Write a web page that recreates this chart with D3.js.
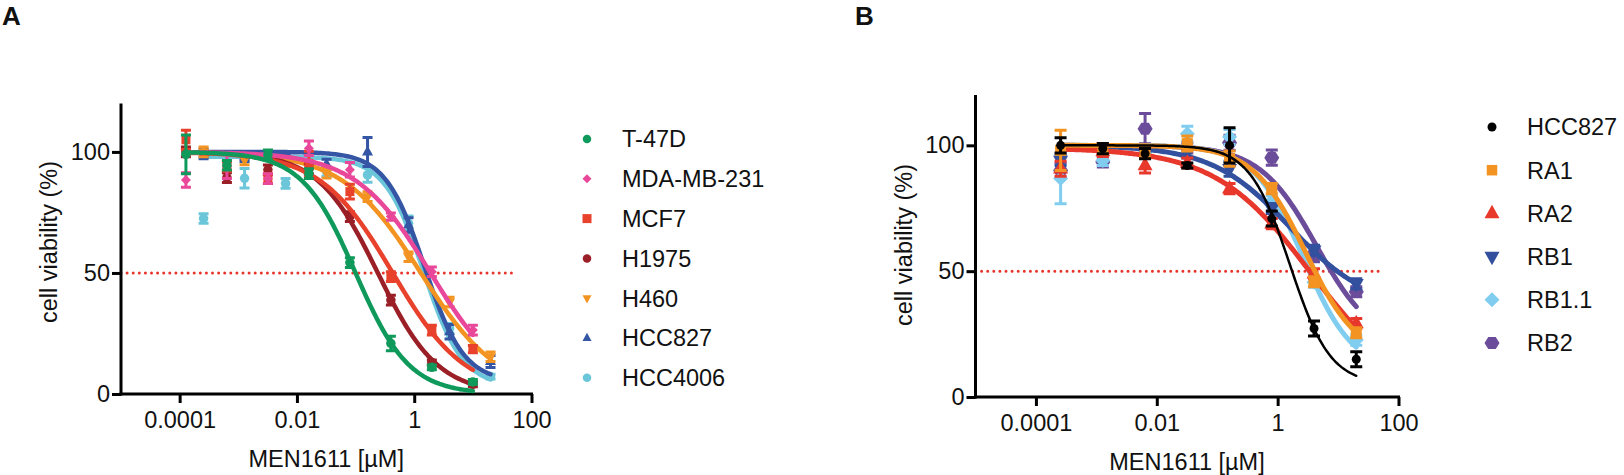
<!DOCTYPE html>
<html><head><meta charset="utf-8">
<script src="https://cdn.jsdelivr.net/npm/d3@7"></script>
<style>
body{margin:0;background:#fff}
text{font-family:"Liberation Sans",Arial,Helvetica,sans-serif;fill:#111}
</style>
</head><body>
<svg id="chart" width="1624" height="475"></svg>
<script>
// ---------- shared axis definitions ----------
const xTickValues = [1e-4, 1e-2, 1, 100];
const xTickLabels = ["0.0001", "0.01", "1", "100"];
const yTickValues = [0, 50, 100];
const xDomain = [1e-5, 100];
const yDomain = [0, 120];
const xLabel = "MEN1611 [µM]";
const yLabel = "cell viability (%)";
const refLine = 50;

// ---------- concentrations (µM) ----------
const concSeries10 = [0.000128, 0.00064, 0.0032, 0.016, 0.08, 0.4, 2, 10];
const concSeries20 = [0.000256, 0.00128, 0.0064, 0.032, 0.16, 0.8, 4, 20];

// ---------- Panel A ----------
const namesA = ["T-47D", "MDA-MB-231", "MCF7", "H1975", "H460", "HCC827", "HCC4006"];
const colorsA = ["#0f9a5c", "#e8479a", "#e8412c", "#9b1f27", "#f39322", "#3556a5", "#6cc6da"];
const shapesA = ["circle", "diamond", "square", "circle", "triDown", "triUp", "circle"];
const concUsedA = ["c10", "c10", "c10", "c10", "c20", "c20", "c20"];

const t47d      = [99, 94.5, 98.8, 91, 54.3, 20.9, 11, 5];
const mdaMb231  = [88.4, 94, 89, 101.5, 92.6, 73.3, 50.5, 26.4];
const mcf7      = [105, 94, 89, 95.3, 83.6, 48.5, 26.4, 18.5];
const h1975     = [100, 89.4, 92.6, 93, 73.3, 38.8, 13, 4];
const h460      = [100, 96.7, 96, 91.2, 81.5, 56.7, 38, 15.4];
const hcc827A   = [99.2, 98, 97, 95, 100, 69.8, 25.7, 13.4];
const hcc4006   = [72.5, 89.1, 87, 91.9, 90.5, 70.5, 27.1, 7.2];

const semT47d     = [8, 2, 2, 2, 2, 3, 1, 1];
const semMda      = [3, 5, 2, 3, 3, 1.5, 2, 2];
const semMcf7     = [4, 2, 2, 5, 3, 2, 2, 1.5];
const semH1975    = [2, 2, 2, 2, 2, 2, 1, 1];
const semH460     = [2, 2, 2, 2, 2, 2, 2, 2];
const semHcc827A  = [2, 2, 1.5, 2, 6, 3, 3, 2.5];
const semHcc4006  = [2, 4, 2, 2, 3, 3, 2, 1];

// 4-parameter logistic fit parameters
const fitTopA    = [100, 100, 100, 100, 100, 100, 98];
const fitBottomA = [0, 0, 0, 0, 0, 5, 3];
const fitIC50A   = [0.1, 1.9, 0.43, 0.24, 1.3, 1.5, 1.45];
const fitHillA   = [0.95, 0.68, 0.7, 0.85, 0.65, 1.3, 1.3];

// ---------- Panel B ----------
const namesB = ["HCC827", "RA1", "RA2", "RB1", "RB1.1", "RB2"];
const colorsB = ["#000000", "#f39322", "#e8372b", "#33509f", "#80cdef", "#6b4c9a"];
const shapesB = ["circle", "square", "triUp", "triDown", "diamond", "hexagon"];

const hcc827B = [100, 98.7, 96.7, 92, 100, 70.9, 27.2, 15];
const ra1     = [98, 98.7, 97, 100.7, 94.7, 82.8, 45.8, 25.5];
const ra2     = [90.7, 97.6, 92, 93, 82.8, 68.9, 49, 29.2];
const rb1     = [94, 98.7, 97, 97, 90.7, 74.9, 58.3, 45];
const rb11    = [86.8, 94, 97, 104.6, 103.3, 78, 45.6, 22.6];
const rb2     = [90, 93.4, 106.6, 99, 101, 95.1, 55.7, 41.8];

const semHcc827B = [3, 2, 2, 1, 7, 3, 3, 3];
const semRa1     = [8, 2, 2, 3, 3, 2, 2, 2];
const semRa2     = [3, 2, 3, 2, 2, 2, 2, 2];
const semRb1     = [2, 2, 1.5, 2, 3, 2, 2, 2];
const semRb11    = [10, 2, 2, 3, 3, 2, 2, 2];
const semRb2     = [3, 2, 6, 2, 3, 3, 2, 2];

const fitTopB    = [100, 100, 99, 100, 100, 100];
const fitBottomB = [5, 15, 0, 35, 10, 20];
const fitIC50B   = [1.6, 2.9, 3.5, 1.6, 2.7, 4.4];
const fitHillB   = [1.3, 1.0, 0.55, 0.67, 1.05, 0.92];

// ---------- build series ----------
const valsA = [t47d, mdaMb231, mcf7, h1975, h460, hcc827A, hcc4006];
const semsA = [semT47d, semMda, semMcf7, semH1975, semH460, semHcc827A, semHcc4006];
const seriesA = namesA.map((n, i) => ({
  name: n, color: colorsA[i], shape: shapesA[i],
  conc: concUsedA[i] === "c10" ? concSeries10 : concSeries20,
  vals: valsA[i], sems: semsA[i],
  fit: {top: fitTopA[i], bottom: fitBottomA[i], ic50: fitIC50A[i], hill: fitHillA[i]},
  lw: 4.5
}));
const valsB = [hcc827B, ra1, ra2, rb1, rb11, rb2];
const semsB = [semHcc827B, semRa1, semRa2, semRb1, semRb11, semRb2];
const seriesB = namesB.map((n, i) => ({
  name: n, color: colorsB[i], shape: shapesB[i],
  conc: concSeries20, vals: valsB[i], sems: semsB[i],
  fit: {top: fitTopB[i], bottom: fitBottomB[i], ic50: fitIC50B[i], hill: fitHillB[i]},
  lw: i === 0 ? 2.5 : 5
}));

// ---------- helpers ----------
function markerPath(shape, s) {
  const p = d3.path();
  const h = s / 2;
  if (shape === "circle") { p.arc(0, 0, h, 0, 2 * Math.PI); }
  else if (shape === "square") { p.rect(-h, -h, s, s); }
  else if (shape === "diamond") { p.moveTo(0, -h); p.lineTo(h, 0); p.lineTo(0, h); p.lineTo(-h, 0); p.closePath(); }
  else if (shape === "triUp") { p.moveTo(0, -0.58 * s); p.lineTo(h, 0.32 * s); p.lineTo(-h, 0.32 * s); p.closePath(); }
  else if (shape === "triDown") { p.moveTo(0, 0.58 * s); p.lineTo(h, -0.32 * s); p.lineTo(-h, -0.32 * s); p.closePath(); }
  else if (shape === "hexagon") {
    for (let k = 0; k < 6; k++) {
      const a = k * Math.PI / 3;
      const px = h * Math.cos(a), py = h * 0.92 * Math.sin(a);
      if (k === 0) p.moveTo(px, py); else p.lineTo(px, py);
    }
    p.closePath();
  }
  return p.toString();
}
const logistic = (x, f) => f.bottom + (f.top - f.bottom) / (1 + Math.pow(x / f.ic50, f.hill));

const svg = d3.select("#chart");

function drawPanel(opt) {
  const x = d3.scaleLog().domain(xDomain).range(opt.xr);
  const y = d3.scaleLinear().domain(yDomain).range(opt.yr);
  const g = svg.append("g");

  // panel letter
  svg.append("text").attr("x", opt.letterX).attr("y", 25)
    .style("font-size", "26px").style("font-weight", "bold").text(opt.letter);

  // reference dotted line
  g.append("line")
    .attr("x1", x(xDomain[0])).attr("x2", x(opt.refEnd))
    .attr("y1", y(refLine)).attr("y2", y(refLine))
    .attr("stroke", "#e8352b").attr("stroke-width", 3)
    .attr("stroke-linecap", "round").attr("stroke-dasharray", "0,6.1");

  // axes
  const xAxis = d3.axisBottom(x).tickValues(xTickValues)
    .tickFormat((d, i) => xTickLabels[i]).tickSizeInner(9).tickSizeOuter(0).tickPadding(8);
  const yAxis = d3.axisLeft(y).tickValues(yTickValues)
    .tickSizeInner(9).tickSizeOuter(0).tickPadding(2);
  const gx = g.append("g").attr("transform", `translate(0,${opt.yr[0]})`).call(xAxis);
  const gy = g.append("g").attr("transform", `translate(${opt.xr[0]},0)`).call(yAxis);
  [gx, gy].forEach(a => {
    a.select(".domain").attr("stroke", "#000").attr("stroke-width", 3);
    a.selectAll(".tick line").attr("stroke", "#000").attr("stroke-width", 3);
    a.selectAll(".tick text").style("font-size", "23.5px").attr("fill", "#111")
      .style("font-family", "'Liberation Sans',Arial,sans-serif");
  });
  gx.select(".domain").attr("d", `M${opt.xr[0] - 1.5},0H${opt.xr[1] + 1.5}`);
  gy.select(".domain").attr("d", `M0,${opt.yr[0] + 1.5}V${opt.yr[1]}`);

  // axis titles
  g.append("text").attr("x", (opt.xr[0] + opt.xr[1]) / 2).attr("y", opt.yr[0] + 73)
    .attr("text-anchor", "middle").style("font-size", "23.5px").text(xLabel);
  g.append("text").attr("transform", `translate(${opt.xr[0] - 64},${opt.yLabelY}) rotate(-90)`)
    .attr("text-anchor", "middle").style("font-size", "23.5px").text(yLabel);

  // series (drawn last-to-first so the first legend entry is on top)
  const line = d3.line().x(d => x(d[0])).y(d => y(d[1])).curve(d3.curveLinear);
  const series = opt.series.slice().reverse();
  series.forEach(s => {
    const sg = g.append("g");
    const lo = Math.log10(s.conc[0]), hi = Math.log10(s.conc[s.conc.length - 1]);
    const samples = d3.range(0, 201).map(k => {
      const cx = Math.pow(10, lo + (hi - lo) * k / 200);
      return [cx, logistic(cx, s.fit)];
    });
    sg.append("path").attr("d", line(samples)).attr("fill", "none")
      .attr("stroke", s.color).attr("stroke-width", s.lw).attr("stroke-linecap", "round");
    s.conc.forEach((c, i) => {
      const cx = x(c), v = s.vals[i], e = s.sems[i];
      const y1 = y(v - e), y2 = y(v + e);
      const cw = opt.capW;
      sg.append("path")
        .attr("d", `M${cx},${y1}V${y2}M${cx - cw / 2},${y1}H${cx + cw / 2}M${cx - cw / 2},${y2}H${cx + cw / 2}`)
        .attr("stroke", s.color).attr("stroke-width", 3).attr("fill", "none");
      sg.append("path").attr("d", markerPath(s.shape, opt.msize(s.shape)))
        .attr("transform", `translate(${cx},${y(v)})`).attr("fill", s.color);
    });
  });

  // legend
  const lg = svg.append("g");
  opt.series.forEach((s, i) => {
    const ly = opt.legY0 + i * opt.legStep;
    lg.append("path").attr("d", markerPath(s.shape, opt.lsize(s.shape)))
      .attr("transform", `translate(${opt.legMX},${ly})`).attr("fill", s.color);
    lg.append("text").attr("x", opt.legTX).attr("y", ly).attr("dy", "0.36em")
      .style("font-size", "23.5px").text(s.name);
  });
}

drawPanel({
  letter: "A", letterX: 2,
  xr: [121, 531.5], yr: [394, 103.5], refEnd: 55, yLabelY: 242,
  series: seriesA, capW: 10,
  msize: sh => sh === "square" ? 9 : (sh === "diamond" ? 10 : (sh.startsWith("tri") ? 11 : 9.5)),
  lsize: sh => sh === "square" ? 9 : (sh === "diamond" ? 9 : (sh.startsWith("tri") ? 9 : 8.5)),
  legMX: 587, legTX: 622, legY0: 139, legStep: 39.8
});

drawPanel({
  letter: "B", letterX: 855,
  xr: [975.5, 1398.5], yr: [397, 95], refEnd: 55, yLabelY: 245,
  series: seriesB, capW: 12,
  msize: sh => sh === "circle" ? 9 : (sh === "square" ? 11 : 15),
  lsize: sh => sh === "circle" ? 9 : (sh === "square" ? 10.5 : 15),
  legMX: 1492, legTX: 1527, legY0: 127, legStep: 43.2
});
</script>
</body></html>
